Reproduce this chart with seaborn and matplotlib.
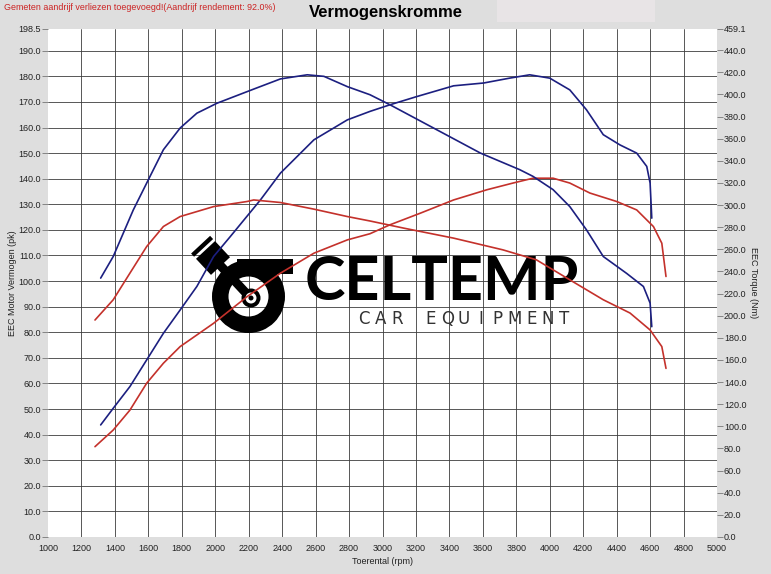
import numpy as np
import matplotlib
matplotlib.use("Agg")
import matplotlib.pyplot as plt
import matplotlib.patches as mpatches
import matplotlib.transforms as mtransforms
import seaborn as sns

# ---------------- data ----------------
# Blue run (after) -- power in pk, torque in Nm
blue_power_rpm = [1315, 1390, 1490, 1590, 1690, 1790, 1890, 1990, 2090, 2270, 2390, 2590, 2790,
                  2925, 3045, 3205, 3425, 3605, 3760, 3880, 4000, 4120, 4220, 4320, 4420, 4520,
                  4580, 4600, 4610]
blue_power_pk = [43.8, 50.3, 58.8, 69.2, 79.6, 88.7, 97.9, 109.6, 117.4, 131.7, 142.2, 155.2, 163.0,
                 166.3, 168.9, 172.1, 176.3, 177.4, 179.3, 180.6, 179.3, 174.7, 166.9, 157.2, 153.2, 150.0,
                 144.8, 138.3, 124.6]

blue_torque_rpm = [1315, 1390, 1510, 1610, 1690, 1790, 1890, 2010, 2230, 2390, 2550, 2650, 2790,
                   2925, 3045, 3325, 3585, 3820, 3900, 4020, 4120, 4220, 4320, 4460, 4560, 4600, 4610]
blue_torque_nm = [234.0, 253.5, 295.6, 325.9, 350.0, 369.6, 383.0, 392.0, 404.8, 414.0, 417.7, 416.3, 407.0,
                  399.7, 390.6, 368.0, 347.0, 332.0, 325.9, 313.9, 298.6, 277.5, 253.5, 238.2, 226.4, 211.4, 190.1]

# Red run (before)
red_power_rpm = [1281, 1390, 1490, 1590, 1690, 1790, 1990, 2190, 2390, 2590, 2790, 2925, 3045,
                 3225, 3425, 3625, 3780, 3900, 4020, 4120, 4240, 4400, 4520, 4620, 4670, 4695]
red_power_pk = [35.3, 41.8, 49.6, 60.1, 67.9, 74.4, 83.5, 93.9, 103.1, 110.9, 116.1, 118.5, 122.0,
                126.5, 131.7, 135.7, 138.3, 140.2, 140.2, 138.3, 134.4, 131.1, 127.8, 121.3, 114.8, 101.8]

red_torque_rpm = [1281, 1390, 1490, 1590, 1690, 1790, 1990, 2190, 2230, 2390, 2590, 2790, 2925,
                  3125, 3425, 3720, 3920, 4120, 4320, 4480, 4600, 4670, 4695]
red_torque_nm = [196.1, 214.4, 238.5, 262.5, 280.6, 289.6, 298.6, 303.2, 304.6, 302.3, 296.3, 289.6, 285.6,
                 279.2, 270.1, 259.5, 250.5, 232.4, 214.4, 202.4, 187.1, 172.1, 152.4]

x_ticks = list(range(1000, 5001, 200))
left_ticks = [float(v) for v in range(0, 191, 10)] + [198.5]
right_ticks = [float(v) for v in range(0, 441, 20)] + [459.1]

title = "Vermogenskromme"
note = "Gemeten aandrijf verliezen toegevoegd!(Aandrijf rendement: 92.0%)"
xlabel = "Toerental (rpm)"
ylabel_left = "EEC Motor Vermogen (pk)"
ylabel_right = "EEC Torque (Nm)"
logo_main = "CELTEMP"
logo_sub = "CAR EQUIPMENT"

# ---------------- style ----------------
sns.set_style("white")
plt.rcParams['font.family'] = ['Liberation Sans', 'DejaVu Sans']

W, H = 771, 574
BG = '#dedede'
BLUE = '#1c1f80'
RED = '#c4312b'

fig = plt.figure(figsize=(W / 100, H / 100), dpi=100, facecolor=BG)
ax = fig.add_axes([48 / W, 37 / H, 669 / W, 508 / H])
ax.set_facecolor('white')
ax2 = ax.twinx()

ax.set_xlim(1000, 5000)
ax.set_ylim(0, 198.5)
ax2.set_ylim(0, 459.1)

ax.set_xticks(x_ticks)
ax.set_xticklabels([str(v) for v in x_ticks])
ax.set_yticks(left_ticks)
ax.set_yticklabels([f"{v:.1f}" for v in left_ticks])
ax2.set_yticks(right_ticks)
ax2.set_yticklabels([f"{v:.1f}" for v in right_ticks])

for a in (ax, ax2):
    for s in a.spines.values():
        s.set_visible(False)

ax.grid(True, color='#3c3c3c', lw=0.6, zorder=0)
ax.set_axisbelow(True)
xg = ax.xaxis.get_gridlines()
xg[0].set_visible(False)
xg[-1].set_visible(False)
yg = ax.yaxis.get_gridlines()
yg[0].set_visible(False)
yg[-1].set_visible(False)

tp = dict(direction='out', length=4, width=0.6, color='#777777', labelsize=6.5,
          labelcolor='#222222', pad=1)
ax.tick_params(axis='both', **tp)
ax2.tick_params(axis='y', **tp)

ax.set_xlabel(xlabel, fontsize=6.5, color='#222222', labelpad=3)
ax.set_ylabel(ylabel_left, fontsize=6.5, color='#222222', labelpad=1)
ax2.set_ylabel(ylabel_right, fontsize=6.5, color='#222222', rotation=270, labelpad=8)

# ---------------- curves ----------------
lw = 1.2
sns.lineplot(x=blue_power_rpm, y=blue_power_pk, ax=ax, color=BLUE, lw=lw, sort=False,
             estimator=None, zorder=5)
sns.lineplot(x=red_power_rpm, y=red_power_pk, ax=ax, color=RED, lw=lw, sort=False,
             estimator=None, zorder=5)
sns.lineplot(x=blue_torque_rpm, y=blue_torque_nm, ax=ax2, color=BLUE, lw=lw, sort=False,
             estimator=None, zorder=5)
sns.lineplot(x=red_torque_rpm, y=red_torque_nm, ax=ax2, color=RED, lw=lw, sort=False,
             estimator=None, zorder=5)

# ---------------- header ----------------
fig.patches.append(mpatches.Rectangle((497 / W, 1 - 22 / H), 158 / W, 22 / H,
                                      transform=fig.transFigure, facecolor='#e8e4e6',
                                      edgecolor='none', zorder=0))
fig.text(386 / W, 1 - 12 / H, title, ha='center', va='center', fontsize=12,
         fontweight='bold', color='black')
fig.text(4 / W, 1 - 8 / H, note, ha='left', va='center', fontsize=6.4, color='#cc2222')

# ---------------- watermark logo (pixel coords, y downward) ----------------
px = mtransforms.Affine2D().scale(1, -1).translate(0, H)

def add(p):
    p.set_transform(px)
    p.set_zorder(2)
    ax.add_patch(p)

cx, cy = 248.5, 296.5
add(mpatches.Wedge((cx, cy), 36.5, 0, 360, width=16.5, facecolor='black', edgecolor='none'))
add(mpatches.Rectangle((237, 258.5), 56, 15, facecolor='black', edgecolor='none'))

u = np.array([0.68, 0.73])
u = u / np.linalg.norm(u)
v = np.array([u[1], -u[0]])
pc = np.array([213.0, 258.0])
hub = np.array([251.0, 298.0])

def quad(center, a, b):
    c = np.asarray(center)
    return [tuple(c - a * u - b * v), tuple(c + a * u - b * v),
            tuple(c + a * u + b * v), tuple(c - a * u + b * v)]

# connecting rod
mid = (pc + hub) / 2
rod_len = np.linalg.norm(hub - pc) / 2
add(mpatches.Polygon(quad(mid, rod_len, 4.5), closed=True, facecolor='black', edgecolor='none'))
add(mpatches.Circle(tuple(hub), 9.5, facecolor='black', edgecolor='none'))
add(mpatches.Circle(tuple(hub), 5.5, facecolor='white', edgecolor='none'))
add(mpatches.Circle(tuple(hub), 2.5, facecolor='black', edgecolor='none'))
# piston block and ring
add(mpatches.Polygon(quad(pc, 11, 13), closed=True, facecolor='black', edgecolor='none'))
add(mpatches.Polygon(quad(pc - 16 * u, 2.2, 13), closed=True, facecolor='black', edgecolor='none'))

ax.text(442, 282, logo_main, transform=px, ha='center', va='center', fontsize=44,
        fontweight='bold', family=['Lato', 'DejaVu Sans'], color='black', zorder=2)
adv = (573 - 355) / len(logo_sub)
for i, ch in enumerate(logo_sub):
    ax.text(355 + adv * (i + 0.5), 319, ch, transform=px, ha='center', va='center',
            fontsize=12, family=['DejaVu Sans'], color='#333333', zorder=2)

fig.savefig("out.png", dpi=100, facecolor=BG)
